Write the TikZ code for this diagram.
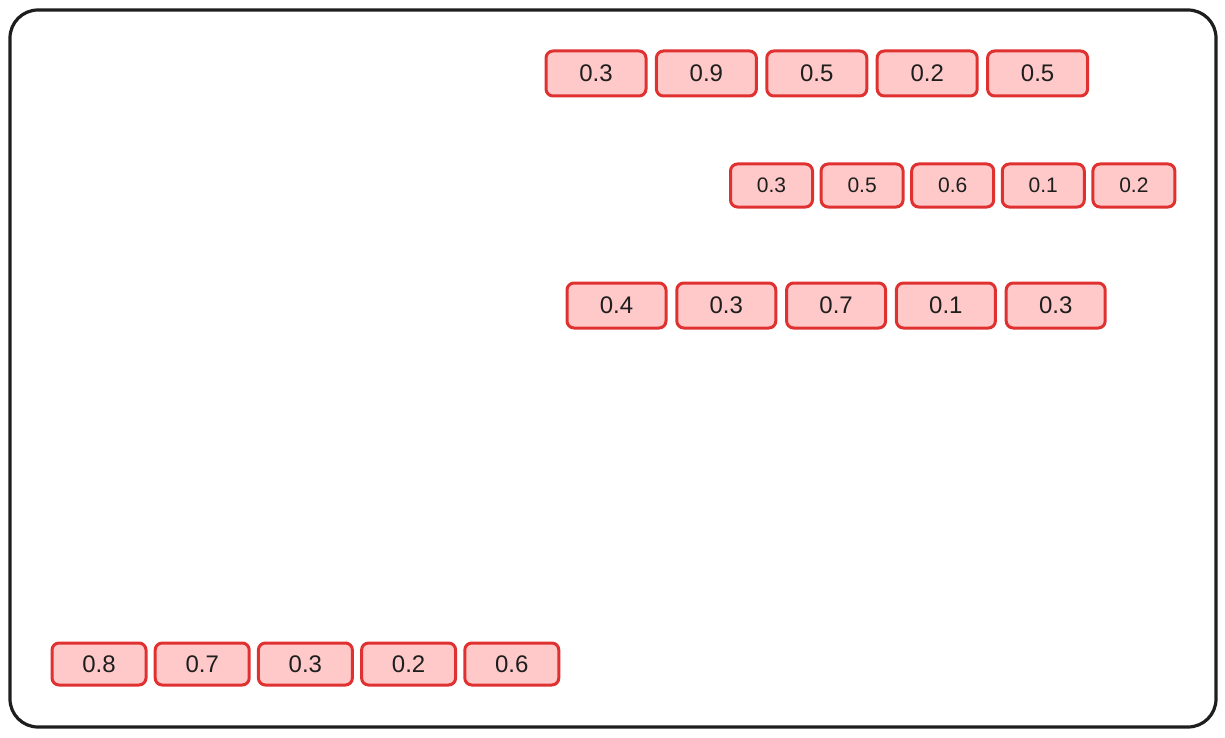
\documentclass[tikz,border=0pt]{standalone}
\usepackage{fontspec}
\setmainfont{Liberation Sans}
\definecolor{boxfill}{HTML}{FFC9C9}
\definecolor{boxline}{HTML}{E03131}
\definecolor{frameline}{HTML}{1E1E1E}
\begin{document}
\begin{tikzpicture}[x=1pt,y=-1pt,
  cell/.style={draw=boxline, fill=boxfill, line width=3pt, rounded corners=7pt, inner sep=0pt, text=frameline},
  frame/.style={draw=frameline, line width=3.2pt, rounded corners=28pt}]
\useasboundingbox (0,0) rectangle (1225,738);
\draw[frame] (10,10) rectangle (1216,727);
% row 1
\foreach \v [count=\i] in {0.3,0.9,0.5,0.2,0.5}{
  \node[cell, minimum width=100pt, minimum height=45pt, font=\fontsize{24}{28}\selectfont]
    (a\i) at ({596+110.4*(\i-1)},73.5) {\v};
}
% row 2
\foreach \v [count=\i] in {0.3,0.5,0.6,0.1,0.2}{
  \node[cell, minimum width=82pt, minimum height=43pt, font=\fontsize{21}{25}\selectfont]
    (b\i) at ({771.5+90.6*(\i-1)},185.5) {\v};
}
% row 3
\foreach \v [count=\i] in {0.4,0.3,0.7,0.1,0.3}{
  \node[cell, minimum width=99pt, minimum height=45pt, font=\fontsize{24}{28}\selectfont]
    (c\i) at ({616.5+109.8*(\i-1)},305.5) {\v};
}
% row 4
\foreach \v [count=\i] in {0.8,0.7,0.3,0.2,0.6}{
  \node[cell, minimum width=94pt, minimum height=42pt, font=\fontsize{24}{28}\selectfont]
    (d\i) at ({99+103.2*(\i-1)},664) {\v};
}
\end{tikzpicture}
\end{document}
